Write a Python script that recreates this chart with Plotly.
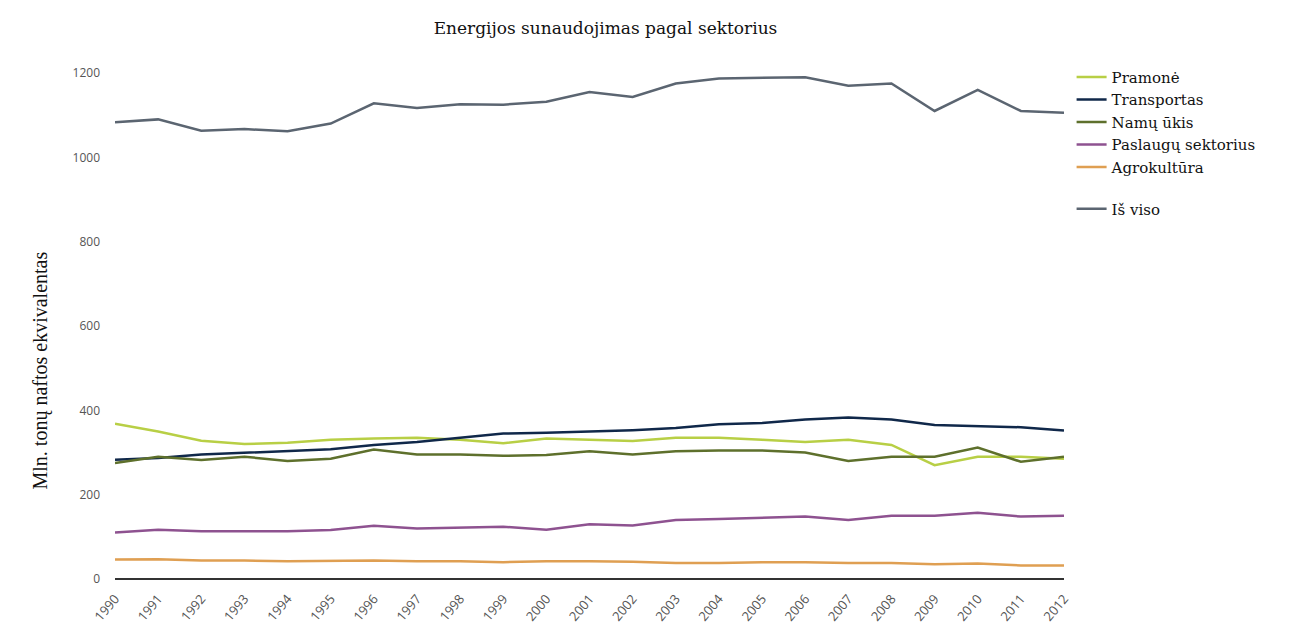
import plotly.graph_objects as go

years = list(range(1990, 2013))
pramone = [368, 350, 328, 320, 323, 330, 333, 335, 330, 322, 333, 330, 327, 335, 335, 330, 325, 330, 318, 270, 290, 290, 285]
transportas = [283, 287, 295, 299, 303, 308, 318, 325, 335, 345, 347, 350, 353, 358, 367, 370, 378, 383, 378, 365, 363, 360, 352]
namu_ukis = [275, 290, 282, 290, 280, 285, 307, 295, 295, 292, 294, 303, 295, 303, 305, 305, 300, 280, 290, 290, 312, 278, 290]
paslaugu = [110, 117, 113, 113, 113, 116, 126, 120, 122, 124, 117, 130, 127, 140, 142, 145, 148, 140, 150, 150, 157, 148, 150]
agro = [46, 47, 44, 44, 42, 43, 44, 42, 42, 40, 42, 42, 41, 38, 38, 40, 40, 38, 38, 35, 37, 32, 32]
is_viso = [1083, 1090, 1063, 1067, 1062, 1080, 1128, 1117, 1126, 1125, 1132, 1155, 1143, 1175, 1187, 1188, 1190, 1170, 1175, 1110, 1160, 1110, 1106]
y_ticks = [0, 200, 400, 600, 800, 1000, 1200]

series = [
    ("Pramonė", pramone, "#b8cf45", "legend"),
    ("Transportas", transportas, "#10284a", "legend"),
    ("Namų ūkis", namu_ukis, "#5e702c", "legend"),
    ("Paslaugų sektorius", paslaugu, "#8e5290", "legend"),
    ("Agrokultūra", agro, "#df9f52", "legend"),
    ("Iš viso", is_viso, "#5b6571", "legend2"),
]

fig = go.Figure()
for name, vals, color, leg in series:
    fig.add_trace(go.Scatter(x=years, y=vals, mode="lines", name=name,
                             legend=leg,
                             line=dict(color=color, width=2.5)))

legend_font = dict(family="DejaVu Serif", size=15, color="#111")
fig.update_layout(
    width=1291, height=624,
    paper_bgcolor="white", plot_bgcolor="white",
    margin=dict(l=115, r=227, t=73, b=45, autoexpand=False),
    title=dict(text="Energijos sunaudojimas pagal sektorius", x=0.469, xref="container",
               xanchor="center", y=0.955, yref="container", yanchor="middle",
               font=dict(family="DejaVu Serif", size=17, color="#111")),
    showlegend=True,
    legend=dict(x=1.008, y=1.024, xanchor="left", yanchor="top",
                font=legend_font, itemwidth=30, bgcolor="rgba(0,0,0,0)"),
    legend2=dict(x=1.008, y=0.764, xanchor="left", yanchor="top",
                 font=legend_font, itemwidth=30, bgcolor="rgba(0,0,0,0)"),
    xaxis=dict(range=[1990, 2012], tickmode="array", tickvals=years,
               ticktext=[str(y) for y in years], tickangle=-50, automargin=False,
               showgrid=False, zeroline=False, showline=False,
               ticks="outside", ticklen=6, tickcolor="rgba(0,0,0,0)",
               tickfont=dict(family="Open Sans", size=13, color="#555")),
    yaxis=dict(range=[0, 1200], tickvals=y_ticks, automargin=False,
               showgrid=False, zeroline=True, zerolinecolor="#333", zerolinewidth=1.5,
               showline=False, ticks="", ticklabelstandoff=14,
               tickfont=dict(family="Open Sans", size=12, color="#555")),
    annotations=[dict(text="Mln. tonų naftos ekvivalentas", textangle=-90,
                      xref="paper", yref="paper", x=-0.078, y=0.412,
                      xanchor="center", yanchor="middle", showarrow=False,
                      font=dict(family="Liberation Serif", size=20, color="#111"))],
)

fig.write_html("out.html")
